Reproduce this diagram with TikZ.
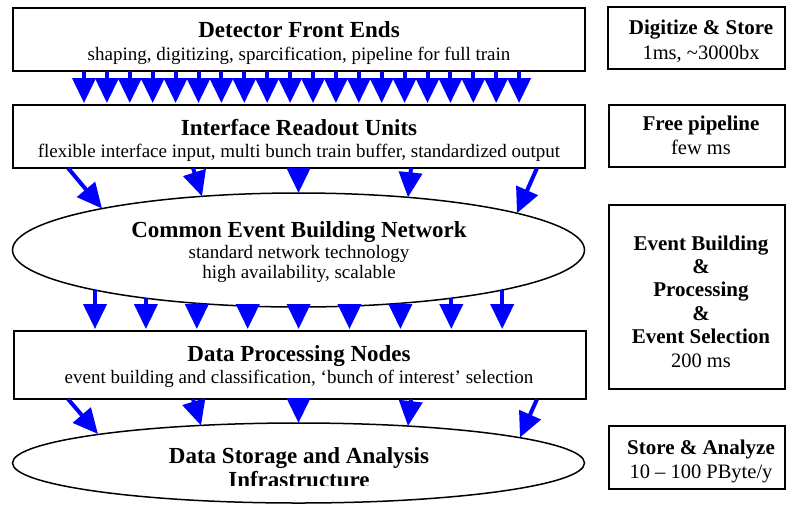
\documentclass[tikz,border=0pt]{standalone}
\usepackage{fontspec}
\setmainfont{Liberation Serif}
\usetikzlibrary{arrows.meta,shapes.geometric}
\definecolor{arrblue}{RGB}{0,0,255}
\tikzset{
  mainbox/.style={draw=black,line width=1.5pt,fill=white,inner sep=0pt,minimum width=572pt},
  sidebox/.style={draw=black,line width=1.5pt,fill=white,inner sep=0pt},
  netell/.style={ellipse,draw=black,line width=1.5pt,fill=white,inner sep=0pt,minimum width=572pt},
  ttl/.style={anchor=base,inner sep=0pt,font=\fontsize{23}{24}\selectfont\bfseries},
  sub/.style={anchor=base,inner sep=0pt,font=\fontsize{19}{24}\selectfont},
  sttl/.style={anchor=base,inner sep=0pt,font=\fontsize{21}{24}\selectfont\bfseries},
  ssub/.style={anchor=base,inner sep=0pt,font=\fontsize{20.5}{24}\selectfont},
  arr/.style={draw=arrblue,line width=4pt,-{Triangle[length=25pt,width=23pt]},arrblue},
}
\begin{document}
\begin{tikzpicture}[x=1pt,y=-1pt]
\useasboundingbox (0,0) rectangle (786,504);
\begin{scope}
\clip (0,0) rectangle (786,504);
% main column
\node[mainbox,minimum height=63pt] (dfe) at (299,39.5) {};
\node[ttl] (dfet) at (299,37) {Detector Front Ends};
\node[sub] (dfes) at (299,60) {shaping, digitizing, sparcification, pipeline for full train};

\node[mainbox,minimum height=63pt] (iru) at (299,136.5) {};
\node[ttl] (irut) at (299,135) {Interface Readout Units};
\node[sub] (irus) at (299,157) {flexible interface input, multi bunch train buffer, standardized output};

\node[netell,minimum height=114pt] (cebn) at (298.5,250) {};
\node[ttl] (cebnt) at (299,237) {Common Event Building Network};
\node[sub] (cebns1) at (299,258) {standard network technology};
\node[sub] (cebns2) at (299,278) {high availability, scalable};

\node[mainbox,minimum height=68pt] (dpn) at (300,365) {};
\node[ttl] (dpnt) at (299,361) {Data Processing Nodes};
\node[sub] (dpns) at (299,383) {event building and classification, `bunch of interest' selection};

\node[netell,minimum height=80pt] (dsa) at (298.5,463) {};
\begin{scope}
\clip (100,440) rectangle (500,485.5);
\node[ttl] (dsat1) at (299,463) {Data Storage and Analysis};
\node[ttl] (dsat2) at (299,487) {Infrastructure};
\end{scope}

% arrows: front ends -> interface readout units
\foreach \i in {0,...,19}{
  \pgfmathsetmacro{\xx}{84+\i*22.9}
  \draw[arr] (\xx,71) -- (\xx,103);
}
% interface readout -> event building network
\draw[arr] (68,168) -- (102,208.5);
\draw[arr] (193,168) -- (202,196.3);
\draw[arr] (298.5,168) -- (298.5,193);
\draw[arr] (411,168) -- (408,197.3);
\draw[arr] (537,168) -- (517,213.2);
% network -> processing nodes
\foreach \i in {0,...,8}{
  \pgfmathsetmacro{\xx}{95+\i*50.9}
  \pgfmathsetmacro{\yy}{250+57*sqrt(1-((\xx-298.5)/286)^2)}
  \draw[arr] (\xx,\yy) -- (\xx,329);
}
% processing nodes -> storage
\draw[arr] (68,399) -- (98,434);
\draw[arr] (193,399) -- (201,425.5);
\draw[arr] (298.5,399) -- (298.5,423);
\draw[arr] (411,399) -- (408,426);
\draw[arr] (537,399) -- (520,437.5);

% side column
\node[sidebox,minimum width=177pt,minimum height=62pt] (r1) at (696.5,38) {};
\node[sttl] (r1t) at (701,34) {Digitize \& Store};
\node[ssub] (r1s) at (701,59) {1ms, \textasciitilde3000bx};

\node[sidebox,minimum width=176pt,minimum height=62pt] (r2) at (697,136) {};
\node[sttl] (r2t) at (701,130) {Free pipeline};
\node[ssub] (r2s) at (701,154) {few ms};

\node[sidebox,minimum width=176pt,minimum height=184pt] (r3) at (697,297) {};
\node[sttl] (r3a) at (701,250) {Event Building};
\node[sttl] (r3b) at (701,273.4) {\&};
\node[sttl] (r3c) at (701,296.8) {Processing};
\node[sttl] (r3d) at (701,320.2) {\&};
\node[sttl] (r3e) at (701,343.6) {Event Selection};
\node[ssub] (r3f) at (701,367) {200 ms};

\node[sidebox,minimum width=176pt,minimum height=63pt] (r4) at (697,457.5) {};
\node[sttl] (r4t) at (701,454) {Store \& Analyze};
\node[ssub] (r4s) at (701,478) {10 -- 100 PByte/y};
\end{scope}
\end{tikzpicture}
\end{document}
